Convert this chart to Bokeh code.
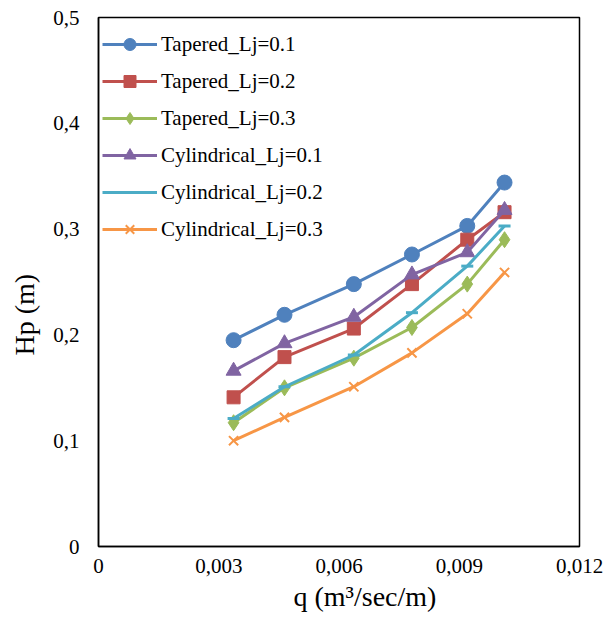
from bokeh.plotting import figure
from bokeh.models import Range1d, FixedTicker, CustomJSTickFormatter, Legend, LegendItem, Title
from bokeh.embed import file_html
from bokeh.resources import INLINE

# ---- data ----
q = [0.00337, 0.00464, 0.00637, 0.00782, 0.00920, 0.01013]
tapered_01 = [0.195, 0.219, 0.248, 0.276, 0.303, 0.344]
tapered_02 = [0.141, 0.179, 0.206, 0.248, 0.290, 0.316]
tapered_03 = [0.117, 0.150, 0.178, 0.207, 0.248, 0.290]
cylindrical_01 = [0.166, 0.192, 0.217, 0.257, 0.278, 0.318]
cylindrical_02 = [0.121, 0.151, 0.181, 0.221, 0.265, 0.303]
cylindrical_03 = [0.100, 0.122, 0.151, 0.183, 0.220, 0.259]
labels = ["Tapered_Lj=0.1", "Tapered_Lj=0.2", "Tapered_Lj=0.3",
          "Cylindrical_Lj=0.1", "Cylindrical_Lj=0.2", "Cylindrical_Lj=0.3"]
x_ticks = [0, 0.003, 0.006, 0.009, 0.012]
y_ticks = [0, 0.1, 0.2, 0.3, 0.4, 0.5]
x_title = "q (m³/sec/m)"
y_title = "Hp (m)"

series = [tapered_01, tapered_02, tapered_03, cylindrical_01, cylindrical_02, cylindrical_03]
colors = ["#4F81BD", "#C0504D", "#9BBB59", "#8064A2", "#4BACC6", "#F79646"]
markers = ["circle", "square", "diamond", "triangle", "dash", "x"]
msizes = [15, 13, 16, 15, 12, 13]
mlw = [1, 1, 1, 1, 3, 2]

FONT = "'Liberation Serif', 'Times New Roman', serif"

p = figure(width=603, height=632, output_backend="svg", toolbar_location=None,
           x_range=Range1d(0, 0.012), y_range=Range1d(0, 0.5),
           min_border_left=97, min_border_right=24, min_border_top=17, min_border_bottom=86)

p.background_fill_color = "white"
p.border_fill_color = "white"
p.outline_line_color = "black"
p.outline_line_width = 1.5
p.xgrid.visible = False
p.ygrid.visible = False

items = []
for ys, c, m, s, lw, lab in zip(series, colors, markers, msizes, mlw, labels):
    r1 = p.line(q, ys, line_color=c, line_width=3)
    r2 = p.scatter(q, ys, marker=m, size=s, fill_color=c, line_color=c, line_width=lw)
    items.append(LegendItem(label=lab, renderers=[r1, r2]))

legend = Legend(items=items, location=(4, 302), glyph_width=55, glyph_height=30,
                spacing=7, padding=5, margin=0, label_standoff=4,
                label_text_font=FONT, label_text_font_size="21px",
                label_text_color="black", border_line_color=None,
                background_fill_alpha=0)
p.add_layout(legend, "center")

p.xaxis.ticker = FixedTicker(ticks=x_ticks)
p.yaxis.ticker = FixedTicker(ticks=y_ticks)
p.xaxis.formatter = CustomJSTickFormatter(code="""
    if (Math.abs(tick) < 1e-12) return "0";
    return tick.toFixed(3).replace('.', ',');
""")
p.yaxis.formatter = CustomJSTickFormatter(code="""
    if (Math.abs(tick) < 1e-12) return "0";
    return tick.toFixed(1).replace('.', ',');
""")

for ax in (p.xaxis, p.yaxis):
    ax.axis_line_color = "black"
    ax.axis_line_width = 1.5
    ax.major_tick_line_color = None
    ax.minor_tick_line_color = None
    ax.major_tick_out = 0
    ax.major_label_text_font = FONT
    ax.major_label_text_font_size = "21px"
    ax.major_label_text_color = "black"

p.xaxis.major_label_standoff = 12
p.yaxis.major_label_standoff = 19

# axis titles as side-panel titles, offset like the reference
xt = Title(text=x_title, align="left", offset=195, vertical_align="middle", standoff=9,
           text_font=FONT, text_font_size="28px", text_font_style="normal", text_color="black")
yt = Title(text=y_title, align="left", offset=191, vertical_align="top", standoff=17,
           text_font=FONT, text_font_size="28px", text_font_style="normal", text_color="black")
p.add_layout(xt, "below")
p.add_layout(yt, "left")

open("out.html", "w").write(file_html(p, INLINE))
